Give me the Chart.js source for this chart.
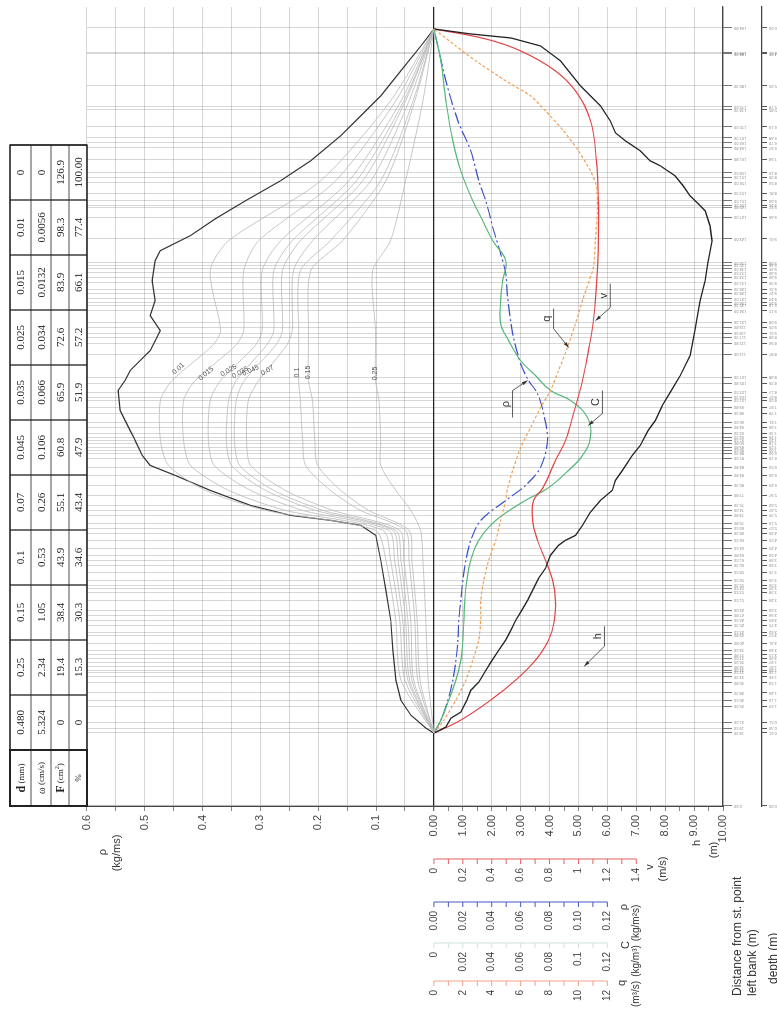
<!DOCTYPE html>
<html>
<head>
<meta charset="utf-8">
<script src="https://cdn.jsdelivr.net/npm/chart.js@4.4.1/dist/chart.umd.min.js"></script>
<style>
  html, body { margin: 0; padding: 0; background: #fff; width: 777px; height: 1010px; overflow: hidden; }
  #wrap { position: absolute; left: 0; top: 0; width: 1010px; height: 777px;
          transform-origin: 0 0; transform: translate(0px, 1010px) rotate(-90deg); }
</style>
</head>
<body>
<div id="wrap"><canvas id="c" width="1010" height="777"></canvas></div>
<script>
// grain size table
const sizes  = ['0.480', '0.25', '0.15', '0.1', '0.07', '0.045', '0.035', '0.025', '0.015', '0.01', '0'];
const omega  = ['5.324', '2.34', '1.05', '0.53', '0.26', '0.106', '0.066', '0.034', '0.0132', '0.0056', '0'];
const areaF  = ['0', '19.4', '38.4', '43.9', '55.1', '60.8', '65.9', '72.6', '83.9', '98.3', '126.9'];
const pct    = ['0', '15.3', '30.3', '34.6', '43.4', '47.9', '51.9', '57.2', '66.1', '77.4', '100.00'];

// measuring verticals, distance from st. point left bank (m)
const verticals = [0, 18.3, 19.5, 21, 25, 26.5, 28.3, 30.8, 32.3, 33.5, 34, 34.8, 36, 37, 37.8, 39, 40.8, 42.8,
  43.5, 45.3, 46.5, 47.8, 49, 51.5, 53.5, 54.5, 55.3, 56.5, 58.5, 60.3, 61.5, 62.8, 64.5, 66.5, 68.3, 69.5, 70.8,
  72.8, 74, 75.3, 77.8, 80.3, 82.8, 84.8, 87, 88.3, 89, 89.8, 90.8, 91.5, 92.3, 93.3, 94.8, 96, 98.3, 99.8, 101.5,
  102.3, 103.5, 105.8, 107.3, 113, 115.8, 117.3, 118.3, 119.8, 121, 124, 125.3, 126, 127, 128.3, 129.3, 131, 132.3,
  133.5, 134.5, 135.3, 136, 142, 147.3, 149.8, 150.3, 151.5, 153.3, 156, 157.3, 158.5, 161.8, 164.8, 166, 167.3,
  170, 174.3, 175, 180.3, 188.3, 188.5, 194.8];

// bed profile h (m)
const hDist = [18.25, 19.75, 22, 23.5, 26.5, 29, 31, 33.5, 36, 39, 41.5, 44, 46.5, 48.5, 51.5, 54.5, 57, 59.5,
  62.75, 65.25, 66.5, 67.75, 70.25, 73.5, 76.5, 79, 81.5, 84, 87.75, 90.25, 94, 96.5, 100.25, 103.5, 107.75,
  112.75, 119, 126.5, 131.5, 136, 141.5, 145.25, 149, 150.25, 152.75, 155.25, 157.75, 160.25, 161.5, 164, 166.5,
  168.5, 171.5, 175.25, 180.25, 186.5, 190.25, 192.25, 193.25, 194.5];
const hDepth = [0, 0.41, 0.59, 0.93, 1.14, 1.28, 1.55, 1.76, 1.97, 2.24, 2.48, 2.66, 2.83, 3.0, 3.24, 3.45, 3.62,
  3.86, 4.03, 4.31, 4.55, 4.9, 5.14, 5.41, 5.76, 6.17, 6.28, 6.52, 6.86, 7.14, 7.41, 7.66, 7.9, 8.17, 8.52, 8.86,
  9.03, 9.21, 9.38, 9.48, 9.62, 9.55, 9.38, 9.21, 8.86, 8.62, 8.34, 7.83, 7.48, 7.14, 6.62, 6.28, 6.1, 5.76, 5.07,
  4.38, 3.69, 2.66, 1.28, 0];

// mean velocity v (m/s)
const vDist = [18.25, 21.5, 26.5, 31.5, 36.5, 41.5, 46.5, 51.5, 56.5, 61.5, 66.5, 71.5, 76.5, 79.5, 86.5, 91.5,
  98.25, 106.5, 114, 119.75, 126.5, 134, 141.5, 151.5, 161.5, 171.5, 179, 184, 189, 192, 194.5];
const vVal = [0, 0.186, 0.393, 0.566, 0.703, 0.793, 0.834, 0.841, 0.821, 0.772, 0.717, 0.683, 0.69, 0.752, 0.841,
  0.91, 0.966, 1.028, 1.069, 1.097, 1.117, 1.131, 1.138, 1.138, 1.124, 1.083, 0.979, 0.841, 0.6, 0.359, 0];

// unit discharge q (m3/s)
const qDist = [18.25, 21.5, 26.5, 31.5, 36.5, 41.5, 46.5, 51.5, 56.5, 61.5, 66.5, 71.5, 76.5, 79.5, 84, 89.75,
  94.75, 99.75, 104, 109, 114.75, 121.5, 127.25, 134.75, 141.5, 149, 155.25, 159, 164, 169, 174, 177.75, 181.5,
  186.5, 190.25, 194.5];
const qVal = [0, 0.69, 1.52, 2.21, 2.69, 3.1, 3.24, 3.24, 3.45, 3.79, 4.28, 4.62, 4.97, 5.1, 5.45, 6.0, 6.69,
  7.38, 8.07, 8.62, 9.24, 9.86, 10.34, 11.03, 11.17, 11.31, 11.24, 10.83, 10.0, 8.97, 7.72, 6.69, 4.97, 2.9,
  1.52, 0];

// concentration C (kg/m3)
const cDist = [18.25, 21.5, 26.5, 31.5, 36.5, 41.5, 46.5, 51.5, 56.5, 61.5, 66.5, 71.5, 76.5, 79.5, 84, 87.75,
  92.25, 97.25, 101.5, 104, 107.75, 111.5, 116.5, 120.75, 126.5, 131.5, 136.5, 141.5, 146.5, 151.5, 159, 166.5,
  176.5, 186.5, 194.5];
const cVal = [0, 0.0048, 0.0103, 0.0152, 0.0186, 0.02, 0.0207, 0.0214, 0.0228, 0.0255, 0.031, 0.0428, 0.0634,
  0.0786, 0.0931, 0.1028, 0.1083, 0.1062, 0.0945, 0.0807, 0.0703, 0.06, 0.0517, 0.0462, 0.0462, 0.0476, 0.0497,
  0.0407, 0.0338, 0.0269, 0.0186, 0.0131, 0.0083, 0.0048, 0];

// specific transport rho (kg/m2s)
const rDist = [18.25, 21.5, 26.5, 31.5, 36.5, 41.5, 46.5, 51.5, 56.5, 61.5, 66.5, 71.5, 76.5, 80.25, 84.75, 91.5,
  98.25, 103.25, 106.5, 110.75, 118.25, 127.25, 133.25, 138.25, 144, 151.5, 156.5, 164, 171.5, 181.5, 194.5];
const rVal = [0, 0.0048, 0.0097, 0.0131, 0.0152, 0.0166, 0.0172, 0.0186, 0.02, 0.0221, 0.0255, 0.0324, 0.0497,
  0.0634, 0.0738, 0.0786, 0.0759, 0.0717, 0.0655, 0.06, 0.0545, 0.051, 0.0497, 0.0462, 0.0414, 0.0359, 0.031,
  0.0255, 0.0166, 0.0083, 0];

// transport per unit width rho (kg/ms), total
const totDist = [194.5, 190.25, 184, 177.75, 172.75, 167.75, 161.5, 156.5, 151.5, 147, 142.75, 139, 136.5, 131.5,
  126.5, 122.75, 119, 114, 111.5, 109, 106.5, 104, 99, 96.5, 94, 91.5, 87.75, 85.25, 82.75, 79, 75.25, 72.75,
  71.5, 70.25, 67.75, 61.5, 54, 46.5, 39, 31.5, 26.5, 22.75, 19.5, 18.25];
const totRho = [0, 0.0225, 0.0572, 0.0919, 0.1266, 0.1613, 0.2133, 0.2653, 0.326, 0.378, 0.4214, 0.4734, 0.4821,
  0.4873, 0.4821, 0.4907, 0.4734, 0.4907, 0.5081, 0.5254, 0.5341, 0.5462, 0.5427, 0.5341, 0.5254, 0.5167, 0.5046,
  0.4907, 0.4474, 0.3867, 0.3173, 0.248, 0.1786, 0.1266, 0.1006, 0.0919, 0.0832, 0.0746, 0.0711, 0.0659, 0.0572,
  0.0399, 0.0139, 0];

// rho per grain size (coarser than d)
const fracDist = [194.5, 176.5, 156.5, 141.5, 134, 119, 115.25, 106.5, 101.5, 91.5, 85.25, 79, 74, 69, 61.5, 46.5, 31.5, 18.25];
const fracNames = ['0.01', '0.015', '0.025', '0.035', '0.045', '0.07', '0.1', '0.15', '0.25'];
const fracRho = [
  [0, 0.075, 0.196, 0.355, 0.387, 0.369, 0.383, 0.453, 0.473, 0.473, 0.459, 0.395, 0.291, 0.101, 0.083, 0.066, 0.057, 0],
  [0, 0.066, 0.170, 0.303, 0.329, 0.329, 0.343, 0.413, 0.433, 0.433, 0.421, 0.355, 0.257, 0.088, 0.075, 0.059, 0.050, 0],
  [0, 0.057, 0.147, 0.265, 0.297, 0.297, 0.309, 0.369, 0.387, 0.390, 0.380, 0.317, 0.227, 0.078, 0.068, 0.054, 0.045, 0],
  [0, 0.052, 0.134, 0.245, 0.277, 0.277, 0.290, 0.342, 0.355, 0.359, 0.350, 0.291, 0.205, 0.071, 0.062, 0.049, 0.042, 0],
  [0, 0.049, 0.123, 0.231, 0.262, 0.262, 0.274, 0.328, 0.342, 0.345, 0.336, 0.277, 0.192, 0.066, 0.057, 0.045, 0.038, 0],
  [0, 0.043, 0.109, 0.210, 0.243, 0.245, 0.255, 0.303, 0.321, 0.324, 0.317, 0.257, 0.175, 0.059, 0.052, 0.040, 0.035, 0],
  [0, 0.036, 0.092, 0.179, 0.231, 0.234, 0.234, 0.234, 0.231, 0.227, 0.222, 0.179, 0.127, 0.049, 0.043, 0.033, 0.028, 0],
  [0, 0.033, 0.083, 0.158, 0.213, 0.217, 0.217, 0.217, 0.210, 0.206, 0.201, 0.161, 0.113, 0.043, 0.038, 0.029, 0.024, 0],
  [0, 0.019, 0.049, 0.075, 0.106, 0.101, 0.101, 0.101, 0.095, 0.092, 0.092, 0.066, 0.040, 0.023, 0.019, 0.014, 0.010, 0]
];
// where the size labels sit on the curves: [dist, rho, angle deg]
const fracLabelAt = [[109.5, 0.442, 48], [108.25, 0.394, 50], [109, 0.355, 60], [108.5, 0.335, 60],
  [109, 0.317, 65], [109, 0.288, 60], [108.5, 0.236, 0], [108.5, 0.217, 0], [108.25, 0.101, 0]];

// small scale bars at lower left
const vTicks = [0, 0.2, 0.4, 0.6, 0.8, 1, 1.2, 1.4];
const vTickLabels = ['0', '0.2', '0.4', '0.6', '0.8', '1', '1.2', '1.4'];
const rTicks = [0, 0.02, 0.04, 0.06, 0.08, 0.10, 0.12];
const rTickLabels = ['0.00', '0.02', '0.04', '0.06', '0.08', '0.10', '0.12'];
const cTicks = [0, 0.02, 0.04, 0.06, 0.08, 0.1, 0.12];
const cTickLabels = ['0', '0.02', '0.04', '0.06', '0.08', '0.1', '0.12'];
const qTicks = [0, 2, 4, 6, 8, 10, 12];
const qTickLabels = ['0', '2', '4', '6', '8', '10', '12'];

// leader labels: text, underline from/to (dist), underline level (depth m), arrow tip (dist, depth)
const leaders = [
  { t: 'v', x1: 124.75, x2: 130.75, y: 6.10, from: 'x1', tx: 121.5, ty: 5.59 },
  { t: 'q', x1: 119.5, x2: 124.5, y: 4.14, from: 'x1', tx: 114.75, ty: 4.66 },
  { t: 'C', x1: 98.25, x2: 104, y: 5.83, from: 'x1', tx: 95.25, ty: 5.34 },
  { t: 'ρ', x1: 97.25, x2: 104, y: 2.72, from: 'x2', tx: 106.5, ty: 3.24 },
  { t: 'h', x1: 40, x2: 45, y: 5.9, from: 'x1', tx: 35, ty: 5.2 }
];

const RHO_PER_M = 0.05;   // 0.05 kg/ms of rho drawn per 1 m of depth
const SANS = "'Liberation Sans', Arial, sans-serif";
const SERIF = "'Liberation Serif', 'Times New Roman', serif";

function pts(xs, ys) { return xs.map((x, i) => ({ x: x, y: ys[i] })); }
function interp(xs, ys, x) {
  if (x <= xs[0] || x >= xs[xs.length - 1]) return 0;
  for (let i = 1; i < xs.length; i++) {
    if (x <= xs[i]) return ys[i - 1] + (ys[i] - ys[i - 1]) * (x - xs[i - 1]) / (xs[i] - xs[i - 1]);
  }
  return 0;
}

const datasets = [];
fracRho.forEach((arr, i) => {
  datasets.push({ label: fracNames[i], data: pts(fracDist, arr), yAxisID: 'yRho',
    borderColor: '#b9b9b9', borderWidth: 0.8, tension: 0.25 });
});
datasets.push({ label: 'rho total', data: pts(totDist, totRho), yAxisID: 'yRho', borderColor: '#333', borderWidth: 1.2 });
datasets.push({ label: 'h', data: pts(hDist, hDepth), yAxisID: 'y', borderColor: '#222', borderWidth: 1.3 });
datasets.push({ label: 'v', data: pts(vDist, vVal), yAxisID: 'yV', borderColor: '#e24545', borderWidth: 1.2, tension: 0.4 });
datasets.push({ label: 'q', data: pts(qDist, qVal), yAxisID: 'yQ', borderColor: '#f0a055', borderWidth: 1.2, borderDash: [3, 2], tension: 0.2 });
datasets.push({ label: 'C', data: pts(cDist, cVal), yAxisID: 'yC', borderColor: '#55b67a', borderWidth: 1.2, tension: 0.4 });
datasets.push({ label: 'rho', data: pts(rDist, rVal), yAxisID: 'yRb', borderColor: '#3a4fc8', borderWidth: 1.2, borderDash: [12, 3, 2, 3], tension: 0.3 });
datasets.forEach(d => { d.showLine = true; d.pointRadius = 0; d.fill = false; });

function drawScaleBar(ctx, scale, x, color, ticks, labels, minor, max) {
  const y0 = scale.getPixelForValue(0), y1 = scale.getPixelForValue(max);
  ctx.save();
  ctx.strokeStyle = color; ctx.lineWidth = 1;
  ctx.beginPath(); ctx.moveTo(x, y0); ctx.lineTo(x, y1);
  for (let v = 0; v <= max + 1e-9; v += minor) {
    const p = scale.getPixelForValue(v);
    ctx.moveTo(x, p); ctx.lineTo(x - 5, p);
  }
  ctx.stroke();
  ctx.fillStyle = '#444'; ctx.font = '10px ' + SANS; ctx.textAlign = 'right'; ctx.textBaseline = 'middle';
  ticks.forEach((v, i) => ctx.fillText(labels[i], x - 9, scale.getPixelForValue(v)));
  ctx.restore();
}

function richText(ctx, parts, cx, cy) {
  let w = 0;
  parts.forEach(p => { ctx.font = (p.b ? 'bold ' : '') + p.s + 'px ' + SERIF; w += ctx.measureText(p.t).width; });
  let x = cx - w / 2;
  parts.forEach(p => {
    ctx.font = (p.b ? 'bold ' : '') + p.s + 'px ' + SERIF;
    ctx.fillText(p.t, x, p.sup ? cy - 4 : cy);
    x += ctx.measureText(p.t).width;
  });
}

const decor = {
  id: 'decor',
  afterDraw(chart) {
    const ctx = chart.ctx, s = chart.scales;
    const X = s.x, Y = s.y, YR = s.yRho;

    // table
    const left = chart.chartArea.left, headW = 56, colW = 55, rows = [10, 31, 51, 69, 87];
    const right = left + headW + colW * sizes.length;
    ctx.save();
    ctx.strokeStyle = '#222';
    ctx.lineWidth = 0.8;
    ctx.beginPath();
    rows.forEach(r => { ctx.moveTo(left, r); ctx.lineTo(right, r); });
    ctx.stroke();
    ctx.lineWidth = 1.3;
    ctx.beginPath();
    for (let c = 0; c <= sizes.length; c++) {
      const x = left + headW + c * colW;
      ctx.moveTo(x, rows[0]); ctx.lineTo(x, rows[4]);
    }
    ctx.stroke();
    ctx.lineWidth = 2;
    ctx.strokeRect(left, rows[0], headW, rows[4] - rows[0]);
    ctx.lineWidth = 1.3;
    ctx.strokeRect(left, rows[0], right - left, rows[4] - rows[0]);
    ctx.fillStyle = '#222'; ctx.textBaseline = 'middle'; ctx.textAlign = 'left';
    const heads = [
      [{ t: 'd', b: true, s: 12 }, { t: ' (mm)', s: 9 }],
      [{ t: 'ω', s: 10 }, { t: ' (cm/s)', s: 9 }],
      [{ t: 'F', b: true, s: 12 }, { t: ' (cm', s: 9 }, { t: '2', s: 6, sup: true }, { t: ')', s: 9 }],
      [{ t: '%', s: 9 }]
    ];
    heads.forEach((h, i) => richText(ctx, h, left + headW / 2, (rows[i] + rows[i + 1]) / 2 + 1));
    ctx.textAlign = 'center';
    ctx.font = '11px ' + SERIF;
    [sizes, omega, areaF, pct].forEach((row, i) => {
      row.forEach((t, c) => ctx.fillText(t, left + headW + c * colW + colW / 2, (rows[i] + rows[i + 1]) / 2 + 1));
    });
    ctx.restore();

    // grain size labels on the rho curves
    ctx.save();
    ctx.fillStyle = '#555'; ctx.font = '7px ' + SANS; ctx.textAlign = 'center'; ctx.textBaseline = 'middle';
    fracLabelAt.forEach((a, i) => {
      ctx.save();
      ctx.translate(X.getPixelForValue(a[0]), YR.getPixelForValue(a[1]));
      ctx.rotate(a[2] * Math.PI / 180);
      ctx.fillText(fracNames[i], 0, 0);
      ctx.restore();
    });
    ctx.restore();

    // leader labels
    ctx.save();
    ctx.strokeStyle = '#333'; ctx.fillStyle = '#333'; ctx.lineWidth = 0.8;
    ctx.font = '11px ' + SANS; ctx.textAlign = 'center'; ctx.textBaseline = 'bottom';
    leaders.forEach(l => {
      const a = X.getPixelForValue(l.x1), b = X.getPixelForValue(l.x2), yy = Y.getPixelForValue(l.y);
      const fx = l.from === 'x1' ? a : b;
      const tx = X.getPixelForValue(l.tx), ty = Y.getPixelForValue(l.ty);
      ctx.beginPath(); ctx.moveTo(b, yy); ctx.lineTo(a, yy); ctx.moveTo(fx, yy); ctx.lineTo(tx, ty); ctx.stroke();
      const ang = Math.atan2(ty - yy, tx - fx);
      ctx.beginPath();
      ctx.moveTo(tx, ty);
      ctx.lineTo(tx - 6 * Math.cos(ang - 0.3), ty - 6 * Math.sin(ang - 0.3));
      ctx.lineTo(tx - 6 * Math.cos(ang + 0.3), ty - 6 * Math.sin(ang + 0.3));
      ctx.closePath(); ctx.fill();
      ctx.fillText(l.t, (a + b) / 2, yy - 1);
    });
    ctx.restore();

    // scale bars
    drawScaleBar(ctx, s.yV, 151, '#e06060', vTicks, vTickLabels, 0.1, 1.4);
    drawScaleBar(ctx, s.yRb, 108, '#4a5ac0', rTicks, rTickLabels, 0.01, 0.12);
    drawScaleBar(ctx, s.yC, 67, '#cfe3d6', cTicks, cTickLabels, 0.01, 0.12);
    drawScaleBar(ctx, s.yQ, 29, '#f2a28a', qTicks, qTickLabels, 1, 12);

    // axis titles
    ctx.save();
    ctx.fillStyle = '#333'; ctx.textAlign = 'center'; ctx.textBaseline = 'middle';
    ctx.font = '11px ' + SANS;
    ctx.fillText('ρ', 158, 103);
    ctx.fillText('(kg/ms)', 157, 117);
    ctx.fillText('h', 167, 697);
    ctx.fillText('(m)', 160, 714);
    ctx.fillText('v', 143, 650);
    ctx.fillText('(m/s)', 141, 663);
    ctx.fillText('ρ', 103, 624);
    ctx.fillText('C', 65, 626);
    ctx.fillText('q', 27, 622);
    ctx.font = '10px ' + SANS;
    ctx.fillText('(kg/m²s)', 87, 636);
    ctx.fillText('(kg/m³)', 49, 636);
    ctx.fillText('(m³/s)', 16, 636);
    ctx.textAlign = 'left';
    ctx.font = '12px ' + SANS;
    ctx.fillText('Distance from st. point', 14, 738);
    ctx.fillText('left bank (m)', 14, 753);
    ctx.fillText('depth (m)', 26, 774);
    ctx.restore();
  }
};

new Chart(document.getElementById('c'), {
  type: 'scatter',
  data: { datasets: datasets },
  plugins: [decor],
  options: {
    responsive: false,
    animation: false,
    events: [],
    layout: { padding: { top: 87, right: 7, left: 0, bottom: 0 } },
    plugins: { legend: { display: false }, tooltip: { enabled: false } },
    scales: {
      x: {
        type: 'linear', position: 'bottom', min: 0, max: 200,
        afterBuildTicks: sc => { sc.ticks = verticals.map(v => ({ value: v })); },
        afterFit: sc => { sc.height = 39; },
        grid: { color: 'rgba(0,0,0,0.2)', lineWidth: 0.8, tickLength: 9, tickColor: '#555' },
        border: { color: '#444', width: 1.2 },
        ticks: { autoSkip: false, minRotation: 90, maxRotation: 90, padding: 2, color: '#888',
          font: { size: 4, family: SANS }, callback: v => v.toFixed(2) }
      },
      x2: {
        type: 'linear', position: 'bottom', min: 0, max: 200,
        afterBuildTicks: sc => { sc.ticks = verticals.map(v => ({ value: v })); },
        afterFit: sc => { sc.height = 15; },
        grid: { drawOnChartArea: false, tickLength: 5, tickColor: '#555' },
        border: { color: '#444', width: 1.2 },
        ticks: { autoSkip: false, minRotation: 90, maxRotation: 90, padding: 2, color: '#888',
          font: { size: 4, family: SANS }, callback: v => interp(hDist, hDepth, v).toFixed(2) }
      },
      y: {
        type: 'linear', position: 'left', reverse: true, min: -0.6 / RHO_PER_M, max: 10,
        afterBuildTicks: sc => {
          const t = [];
          for (let v = -12; v <= 10; v += 0.5) {
            if (v < 0 && !Number.isInteger(v)) continue;
            t.push({ value: v });
          }
          sc.ticks = t;
        },
        afterFit: sc => { sc.width = 204; },
        grid: {
          color: c => {
            const v = c.tick ? c.tick.value : 1;
            if (v === 0) return '#222';
            return Number.isInteger(v) ? 'rgba(0,0,0,0.2)' : 'rgba(0,0,0,0)';
          },
          lineWidth: c => (c.tick && c.tick.value === 0 ? 1.3 : 0.8),
          tickLength: 5, tickColor: '#666'
        },
        border: { color: '#444', width: 1.2 },
        ticks: { autoSkip: false, padding: 4, color: '#444', font: { size: 11, family: SANS },
          callback: v => {
            if (v >= 0) return Number.isInteger(v) ? v.toFixed(2) : '';
            return Math.round(-v) % 2 === 0 ? (-v * RHO_PER_M).toFixed(1) : '';
          } }
      },
      yRho: { type: 'linear', display: false, min: -10 * RHO_PER_M, max: 0.6 },
      yV:  { type: 'linear', display: false, reverse: true, min: -2.4, max: 2.0 },
      yRb: { type: 'linear', display: false, reverse: true, min: -0.24, max: 0.2 },
      yC:  { type: 'linear', display: false, reverse: true, min: -0.24, max: 0.2 },
      yQ:  { type: 'linear', display: false, reverse: true, min: -24, max: 20 }
    }
  }
});
</script>
</body>
</html>
